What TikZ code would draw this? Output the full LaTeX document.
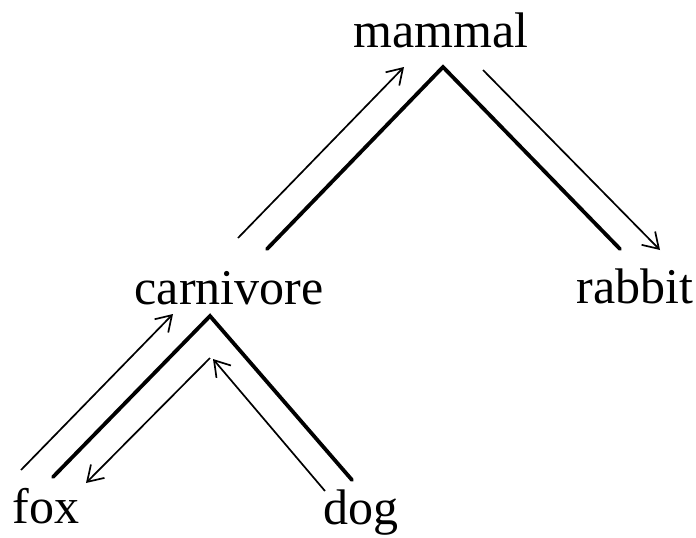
\documentclass[tikz,border=0pt]{standalone}
\usepackage{fontspec}
\setmainfont{Liberation Serif}
\usetikzlibrary{arrows.meta}

\begin{document}
\begin{tikzpicture}[x=1pt,y=-1pt,
    word/.style={anchor=base,inner sep=0pt,font=\fontsize{50}{60}\selectfont},
    branch/.style={line width=3.8pt,line cap=round},
    walk/.style={line width=1.7pt,-{Straight Barb[length=15pt,width=19pt,line width=1.7pt]}}]
      \useasboundingbox (0,0) rectangle (696,538);
      % words
      \node [word] (mammal) at (441,47) {mammal};
      \node [word] (carnivore) at (229,304) {carnivore};
      \node [word] (rabbit) at (635,303) {rabbit};
      \node [word] (fox) at (46,523) {fox};
      \node [word] (dog) at (361,524) {dog};
      % tree points
      \coordinate (top) at (443,67);
      \coordinate (top-l) at (267,249);
      \coordinate (top-r) at (620,249);
      \coordinate (mid) at (210,316);
      \coordinate (mid-l) at (53,477);
      \coordinate (mid-r) at (352,480);
      \draw [branch] (top-l) -- (top) -- (top-r);
      \draw [branch] (mid-l) -- (mid) -- (mid-r);
      % walks
      \coordinate (a1) at (238,238);
      \coordinate (a2) at (404,67);
      \coordinate (b1) at (483,70);
      \coordinate (b2) at (660,250);
      \coordinate (c1) at (21,470);
      \coordinate (c2) at (173,314);
      \coordinate (d1) at (210,358);
      \coordinate (d2) at (86,483);
      \coordinate (e1) at (325,491);
      \coordinate (e2) at (213,359);
      \draw [walk] (a1) -- (a2);
      \draw [walk] (b1) -- (b2);
      \draw [walk] (c1) -- (c2);
      \draw [walk] (d1) -- (d2);
      \draw [walk] (e1) -- (e2);
\end{tikzpicture}
\end{document}
